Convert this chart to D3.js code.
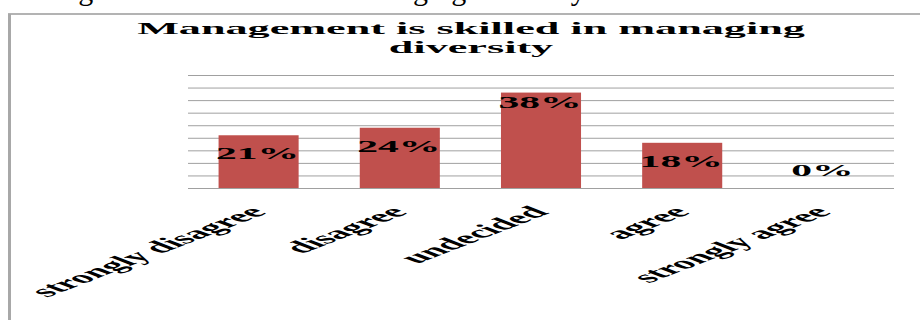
<!DOCTYPE html>
<html>
<head>
<meta charset="utf-8">
<script src="https://cdn.jsdelivr.net/npm/d3@7"></script>
<style>
  html, body { margin: 0; padding: 0; background: #fff; }
  svg { display: block; }
</style>
</head>
<body>
<svg id="chart" width="920" height="320"></svg>
<script>
const categories = ["strongly disagree", "disagree", "undecided", "agree", "strongly agree"];
const values = [0.21, 0.24, 0.38, 0.18, 0.00];
const valueLabels = ["21%", "24%", "38%", "18%", "0%"];
const gridTicks = [0, 0.05, 0.10, 0.15, 0.20, 0.25, 0.30, 0.35, 0.40, 0.45];
const titleLines = ["Management is skilled in managing", "diversity"];
const captionText = "Management is skilled in managing diversity";

const W = 920, H = 320;
const SX = 2.6; // horizontal stretch of the picture
const serif = "'Liberation Serif', 'Times New Roman', serif";
const svg = d3.select("#chart");

svg.append("rect").attr("width", W).attr("height", H).attr("fill", "#fff");

// clipped document caption at the very top (only its lowest part is in view)
svg.append("text")
  .attr("x", 10).attr("y", -0.5)
  .attr("font-family", serif).attr("font-size", 30)
  .attr("word-spacing", 7)
  .attr("fill", "#000")
  .text(captionText);

// chart frame (top and left borders)
svg.append("line").attr("x1", 8).attr("x2", W).attr("y1", 14).attr("y2", 14)
  .attr("stroke", "#9a9a9a").attr("stroke-width", 1.5);
svg.append("line").attr("x1", 9.5).attr("x2", 9.5).attr("y1", 14).attr("y2", H)
  .attr("stroke", "#a8a8a8").attr("stroke-width", 3);

// scales
const x = d3.scaleBand().domain(categories).range([188, 894])
  .paddingInner(0.433).paddingOuter(0.2165);
const y = d3.scaleLinear().domain([0, 0.45]).range([188, 75]);

// gridlines via axis
const gridAxis = d3.axisLeft(y).tickValues(gridTicks).tickSize(-(894 - 188)).tickFormat("");
const gg = svg.append("g").attr("transform", "translate(188,0)").call(gridAxis);
gg.select(".domain").remove();
gg.selectAll(".tick line").attr("stroke", "#a0a0a0").attr("stroke-width", 1);

// title
svg.selectAll("text.title").data(titleLines).enter().append("text")
  .attr("class", "title")
  .attr("transform", (d, i) => `translate(471,${34 + i * 19}) scale(${SX},1)`)
  .attr("text-anchor", "middle")
  .attr("font-family", serif).attr("font-weight", "bold").attr("font-size", 17)
  .attr("fill", "#000")
  .text(d => d);

// bars
svg.selectAll("rect.bar").data(values).enter().append("rect")
  .attr("class", "bar")
  .attr("x", (d, i) => x(categories[i]))
  .attr("width", x.bandwidth())
  .attr("y", d => y(d))
  .attr("height", d => y(0) - y(d))
  .attr("fill", "#c0504d");

// value labels
svg.selectAll("text.vlabel").data(values).enter().append("text")
  .attr("class", "vlabel")
  .attr("transform", (d, i) => {
    const cx = x(categories[i]) + x.bandwidth() / 2 - 1;
    const h = y(0) - y(d);
    const by = h > 80 ? y(d) + 15.5 : Math.min(y(d) + 24, y(0) - 12);
    return `translate(${cx},${by}) scale(${SX},1)`;
  })
  .attr("text-anchor", "middle")
  .attr("font-family", serif).attr("font-weight", "bold").attr("font-size", 16)
  .attr("fill", "#000")
  .text((d, i) => valueLabels[i]);

// category axis labels (rotated, then stretched)
svg.selectAll("text.cat").data(categories).enter().append("text")
  .attr("class", "cat")
  .attr("transform", d => `translate(${x(d) + x.bandwidth() / 2 + 9},213) scale(${SX},1) rotate(-45)`)
  .attr("text-anchor", "end")
  .attr("font-family", serif).attr("font-weight", "bold").attr("font-size", 16.5)
  .attr("fill", "#000")
  .text(d => d);
</script>
</body>
</html>
